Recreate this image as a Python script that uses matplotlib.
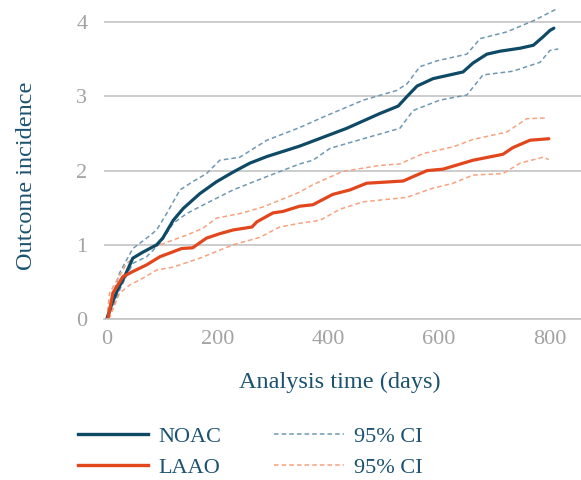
import matplotlib
matplotlib.use("Agg")
from matplotlib import pyplot as plt
from matplotlib.lines import Line2D

# NOAC cumulative incidence and 95% CI
noac_t = [0, 10, 20, 32, 47, 65, 90, 101, 120, 138, 168, 198, 228, 258, 289, 348,
          433, 493, 526, 542, 560, 589, 619, 643, 661, 686, 710, 746, 770, 787, 800, 807]
noac_y = [0, 0.22, 0.40, 0.57, 0.82, 0.90, 1.00, 1.09, 1.33, 1.49, 1.69, 1.85, 1.98, 2.10, 2.19, 2.33,
          2.57, 2.77, 2.87, 3.00, 3.14, 3.24, 3.29, 3.33, 3.45, 3.57, 3.61, 3.65, 3.69, 3.80, 3.89, 3.92]

noac_hi_t = [0, 10, 23, 47, 72, 90, 108, 132, 155, 180, 204, 240, 289, 348, 390, 463,
             523, 542, 565, 596, 650, 674, 722, 770, 815]
noac_hi_y = [0, 0.30, 0.62, 0.95, 1.09, 1.20, 1.42, 1.74, 1.85, 1.96, 2.14, 2.18, 2.41, 2.58, 2.72, 2.95,
             3.08, 3.17, 3.40, 3.48, 3.57, 3.78, 3.87, 4.02, 4.19]

noac_lo_t = [0, 12, 25, 47, 72, 96, 120, 144, 180, 228, 289, 348, 372, 403, 463, 529,
             553, 601, 650, 679, 733, 782, 800, 815]
noac_lo_y = [0, 0.18, 0.42, 0.75, 0.84, 1.02, 1.29, 1.42, 1.56, 1.74, 1.92, 2.09, 2.14, 2.30, 2.43, 2.57,
             2.81, 2.95, 3.02, 3.29, 3.34, 3.46, 3.62, 3.64]

# LAAO cumulative incidence and 95% CI
laao_t = [2, 11, 29, 47, 72, 96, 114, 135, 155, 180, 204, 228, 262, 271, 300, 318, 348,
          372, 408, 439, 469, 535, 578, 607, 661, 715, 733, 764, 798]
laao_y = [0, 0.35, 0.57, 0.64, 0.73, 0.84, 0.89, 0.95, 0.96, 1.09, 1.15, 1.20, 1.24, 1.31, 1.43, 1.45, 1.52,
          1.54, 1.68, 1.74, 1.83, 1.86, 2.00, 2.02, 2.14, 2.22, 2.31, 2.41, 2.43]

laao_hi_t = [0, 5, 36, 60, 96, 144, 173, 198, 240, 282, 312, 348, 372, 426, 493, 529,
             571, 625, 661, 722, 758, 795]
laao_hi_y = [0, 0.35, 0.75, 0.89, 1.00, 1.13, 1.22, 1.36, 1.42, 1.51, 1.60, 1.71, 1.81, 1.99, 2.07, 2.09,
             2.23, 2.32, 2.42, 2.52, 2.70, 2.71]

laao_lo_t = [4, 23, 42, 65, 90, 120, 168, 228, 276, 312, 348, 385, 421, 463, 542,
             583, 625, 661, 715, 746, 787, 798]
laao_lo_y = [0, 0.35, 0.46, 0.55, 0.66, 0.70, 0.82, 1.00, 1.10, 1.24, 1.29, 1.33, 1.48, 1.58, 1.64,
             1.75, 1.83, 1.94, 1.96, 2.10, 2.18, 2.15]

x_ticks = [0, 200, 400, 600, 800]
y_ticks = [0, 1, 2, 3, 4]

NOAC_C = "#0e4a66"
LAAO_C = "#e2461c"
NOAC_CI = "#6f98b3"
LAAO_CI = "#f7a27f"
TEXT_C = "#1b5270"
TICK_C = "#a3a3a3"
GRID_C = "#c4c4c4"

plt.rcParams['font.family'] = ['Liberation Serif', 'DejaVu Serif']

fig = plt.figure(figsize=(5.81, 4.8), dpi=100)
ax = fig.add_axes([104 / 581, 1 - 319 / 480, 1 - 104 / 581, 319 / 480])

ax.plot(noac_hi_t, noac_hi_y, color=NOAC_CI, lw=1.1, ls=(0, (3, 2)))
ax.plot(noac_lo_t, noac_lo_y, color=NOAC_CI, lw=1.1, ls=(0, (3, 2)))
ax.plot(laao_hi_t, laao_hi_y, color=LAAO_CI, lw=1.1, ls=(0, (3, 2)))
ax.plot(laao_lo_t, laao_lo_y, color=LAAO_CI, lw=1.1, ls=(0, (3, 2)))
ax.plot(noac_t, noac_y, color=NOAC_C, lw=2.3, solid_capstyle='round', solid_joinstyle='round')
ax.plot(laao_t, laao_y, color=LAAO_C, lw=2.3, solid_capstyle='round', solid_joinstyle='round')

ax.set_xlim(-5, 856)
ax.set_ylim(0, 4.3)
ax.set_xticks(x_ticks)
ax.set_yticks(y_ticks)
ax.grid(axis='y', color=GRID_C, lw=1.2)
ax.set_axisbelow(True)
for s in ['top', 'right', 'left']:
    ax.spines[s].set_visible(False)
ax.spines['bottom'].set_color(GRID_C)
ax.spines['bottom'].set_linewidth(1.2)
ax.tick_params(length=0, labelsize=16, colors=TICK_C)
ax.tick_params(axis='y', pad=12)
ax.tick_params(axis='x', pad=8)

fig.text(340 / 581, 1 - 382 / 480, "Analysis time (days)", ha='center', va='center',
         fontsize=17.5, color=TEXT_C)
fig.text(27 / 581, 1 - 176 / 480, "Outcome incidence", ha='center', va='center',
         rotation=90, fontsize=17.5, color=TEXT_C)

handles = [
    Line2D([], [], color=NOAC_C, lw=2.4),
    Line2D([], [], color=LAAO_C, lw=2.4),
    Line2D([], [], color=NOAC_CI, lw=1.1, ls=(0, (3, 2))),
    Line2D([], [], color=LAAO_CI, lw=1.1, ls=(0, (3, 2))),
]
labels = ["NOAC", "LAAO", "95% CI", "95% CI"]
leg = fig.legend(handles, labels, ncol=2, frameon=False, fontsize=16,
                 loc='upper left', bbox_to_anchor=(78 / 581, 1 - 426 / 480),
                 borderpad=0, borderaxespad=0,
                 handlelength=3.15, handletextpad=0.45, columnspacing=2.4,
                 labelspacing=0.5)
for t in leg.get_texts():
    t.set_color(TEXT_C)

fig.savefig("out.png", dpi=100)
